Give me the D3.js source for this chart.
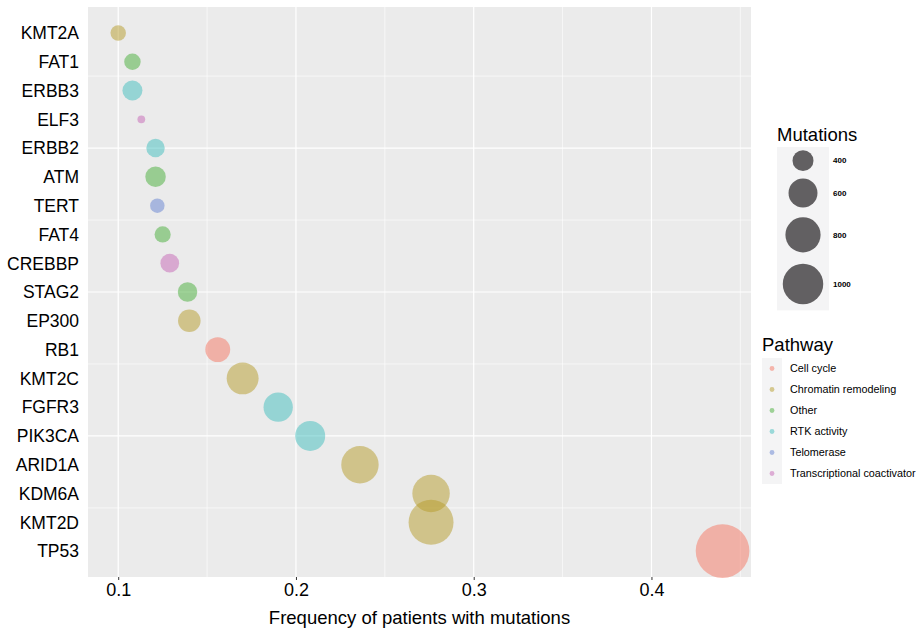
<!DOCTYPE html>
<html>
<head>
<meta charset="utf-8">
<script src="https://cdn.jsdelivr.net/npm/d3@7"></script>
<style>
body { margin: 0; background: #fff; }
text { font-family: "Liberation Sans", Arial, Helvetica, sans-serif; }
</style>
</head>
<body>
<svg id="viz"></svg>
<script>
var width = 917;
var height = 631;

// genes from top to bottom
var genes = ["KMT2A", "FAT1", "ERBB3", "ELF3", "ERBB2", "ATM", "TERT", "FAT4", "CREBBP", "STAG2",
             "EP300", "RB1", "KMT2C", "FGFR3", "PIK3CA", "ARID1A", "KDM6A", "KMT2D", "TP53"];
var frequency = [0.100, 0.108, 0.108, 0.113, 0.121, 0.121, 0.122, 0.125, 0.129, 0.139,
                 0.140, 0.156, 0.170, 0.190, 0.208, 0.236, 0.276, 0.276, 0.440];
var mutations = [300, 315, 380, 210, 350, 390, 285, 310, 355, 370,
                 435, 490, 690, 610, 630, 880, 880, 1190, 1620];
var pathway = ["Chromatin remodeling", "Other", "RTK activity", "Transcriptional coactivator", "RTK activity",
               "Other", "Telomerase", "Other", "Transcriptional coactivator", "Other",
               "Chromatin remodeling", "Cell cycle", "Chromatin remodeling", "RTK activity", "RTK activity",
               "Chromatin remodeling", "Chromatin remodeling", "Chromatin remodeling", "Cell cycle"];

var pathways = ["Cell cycle", "Chromatin remodeling", "Other", "RTK activity", "Telomerase", "Transcriptional coactivator"];
var pathwayColors = ["#F57561", "#B59B29", "#45AD37", "#3FBDBD", "#6381D1", "#C565B5"];
var sizeBreaks = [400, 600, 800, 1000];
var xTicks = [0.1, 0.2, 0.3, 0.4];
var xMinor = [0.15, 0.25, 0.35, 0.45];

var rows = genes.map(function(g, i) {
    return {gene: g, freq: frequency[i], mut: mutations[i], path: pathway[i], pos: genes.length - i};
});

var plot = {left: 88, right: 751, top: 7, bottom: 577};

var x = d3.scaleLinear().domain([0.083, 0.456]).range([plot.left, plot.right]);
var y = d3.scaleLinear().domain([0.1, genes.length + 0.9]).range([plot.bottom, plot.top]);
var r = d3.scaleRadial().domain([180, 1800]).range([0, Math.sqrt(810)]);
var color = d3.scaleOrdinal().domain(pathways).range(pathwayColors);

var svg = d3.select("#viz").attr("width", width).attr("height", height);

svg.append("rect")
    .attr("x", plot.left).attr("y", plot.top)
    .attr("width", plot.right - plot.left).attr("height", plot.bottom - plot.top)
    .attr("fill", "#EBEBEB");

var grid = svg.append("g").attr("class", "grid");
var yMajor = y.ticks(4).filter(function(v) { return v > 0.1 && v < genes.length + 0.9; });
var yMinor = yMajor.map(function(v) { return v - 2.5; }).concat([yMajor[yMajor.length - 1] + 2.5]);

grid.selectAll(".yminor").data(yMinor).enter().append("line")
    .attr("x1", plot.left).attr("x2", plot.right)
    .attr("y1", function(d) { return y(d); }).attr("y2", function(d) { return y(d); })
    .attr("stroke", "#fff").attr("stroke-width", 0.6);
grid.selectAll(".ymajor").data(yMajor).enter().append("line")
    .attr("x1", plot.left).attr("x2", plot.right)
    .attr("y1", function(d) { return y(d); }).attr("y2", function(d) { return y(d); })
    .attr("stroke", "#fff").attr("stroke-width", 1.2);
grid.selectAll(".xminor").data(xMinor).enter().append("line")
    .attr("y1", plot.top).attr("y2", plot.bottom)
    .attr("x1", function(d) { return x(d); }).attr("x2", function(d) { return x(d); })
    .attr("stroke", "#fff").attr("stroke-width", 0.6);
grid.selectAll(".xmajor").data(xTicks).enter().append("line")
    .attr("y1", plot.top).attr("y2", plot.bottom)
    .attr("x1", function(d) { return x(d); }).attr("x2", function(d) { return x(d); })
    .attr("stroke", "#fff").attr("stroke-width", 1.2);

// bubbles
svg.append("g").selectAll("circle")
    .data(rows)
    .enter()
    .append("circle")
    .attr("cx", function(d) { return x(d.freq); })
    .attr("cy", function(d) { return y(d.pos); })
    .attr("r", function(d) { return r(d.mut); })
    .attr("fill", function(d) { return color(d.path); })
    .attr("fill-opacity", 0.5);

// x axis
var xAxis = svg.append("g")
    .attr("transform", "translate(0," + plot.bottom + ")")
    .call(d3.axisBottom(x).tickValues(xTicks).tickSize(3).tickPadding(3).tickFormat(d3.format(".1f")));
xAxis.select(".domain").remove();
xAxis.selectAll("line").attr("stroke", "#333");
xAxis.selectAll("text").attr("fill", "#000").style("font-size", "18px")
    .style("font-family", "'Liberation Sans', Arial, sans-serif");

// y labels
svg.append("g").selectAll("text")
    .data(rows)
    .enter()
    .append("text")
    .attr("x", plot.left - 9)
    .attr("y", function(d) { return y(d.pos); })
    .attr("dy", "0.36em")
    .attr("text-anchor", "end")
    .style("font-size", "17.5px")
    .attr("fill", "#000")
    .text(function(d) { return d.gene; });

svg.append("text")
    .attr("x", (plot.left + plot.right) / 2)
    .attr("y", 624)
    .attr("text-anchor", "middle")
    .style("font-size", "18.5px")
    .text("Frequency of patients with mutations");

// size legend
var sizeLegend = svg.append("g").attr("transform", "translate(777,0)");
sizeLegend.append("text").attr("x", 0).attr("y", 141).style("font-size", "18.5px").text("Mutations");
var keyY = 147;
var keys = sizeBreaks.map(function(v) {
    var h = r(v) * 2.6;
    var k = {v: v, c: keyY + h / 2};
    keyY += h;
    return k;
});
sizeLegend.append("rect")
    .attr("x", 0).attr("y", 147).attr("width", 52).attr("height", keyY - 147)
    .attr("fill", "#F4F4F5");
sizeLegend.selectAll("circle").data(keys).enter().append("circle")
    .attr("cx", 26).attr("cy", function(d) { return d.c; })
    .attr("r", function(d) { return r(d.v); })
    .attr("fill", "#626062");
sizeLegend.selectAll(".lab").data(keys).enter().append("text")
    .attr("x", 56).attr("y", function(d) { return d.c; }).attr("dy", "0.35em")
    .style("font-size", "8px").style("font-weight", "bold").text(function(d) { return d.v; });

// pathway legend
var pathLegend = svg.append("g").attr("transform", "translate(762,0)");
pathLegend.append("text").attr("x", 0).attr("y", 351).style("font-size", "18.5px").text("Pathway");
pathLegend.append("rect")
    .attr("x", 0).attr("y", 358).attr("width", 20).attr("height", pathways.length * 21)
    .attr("fill", "#F4F4F5");
pathLegend.selectAll("circle").data(pathways).enter().append("circle")
    .attr("cx", 10).attr("cy", function(d, i) { return 368.5 + i * 21; })
    .attr("r", 2.4)
    .attr("fill", function(d) { return color(d); })
    .attr("fill-opacity", 0.5);
pathLegend.selectAll(".lab").data(pathways).enter().append("text")
    .attr("x", 28).attr("y", function(d, i) { return 368.5 + i * 21; }).attr("dy", "0.35em")
    .style("font-size", "10.8px").text(function(d) { return d; });
</script>
</body>
</html>
